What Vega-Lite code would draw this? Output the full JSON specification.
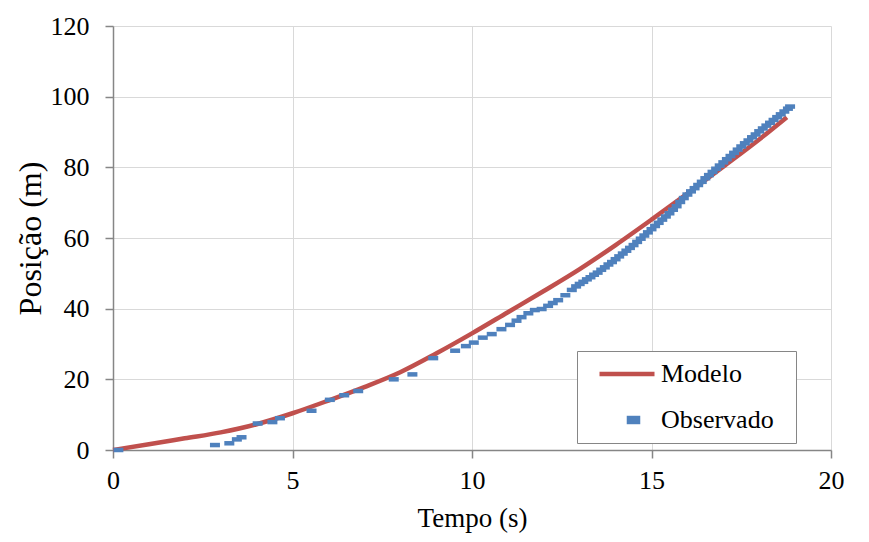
{
  "$schema": "https://vega.github.io/schema/vega-lite/v6.json",
  "width": 718,
  "height": 424,
  "autosize": "none",
  "padding": {"left": 113, "top": 26, "right": 38, "bottom": 92},
  "background": "white",
  "config": {
    "view": {"stroke": null},
    "font": "Liberation Serif",
    "axis": {
      "labelFont": "Liberation Serif",
      "titleFont": "Liberation Serif",
      "labelFontSize": 26,
      "titleFontSize": 27,
      "titleFontWeight": "normal",
      "labelColor": "black",
      "titleColor": "black",
      "gridColor": "#D9D9D9",
      "gridWidth": 1,
      "domainColor": "#868686",
      "domainWidth": 1.5,
      "tickColor": "#868686",
      "tickWidth": 1.5,
      "tickSize": 8
    },
    "legend": {"labelFont": "Liberation Serif"}
  },
  "datasets": {
    "modelo": [
      {"serie": "Modelo", "t": 0, "pos": 0},
      {"serie": "Modelo", "t": 1, "pos": 1.6},
      {"serie": "Modelo", "t": 2, "pos": 3.3},
      {"serie": "Modelo", "t": 3, "pos": 5.0},
      {"serie": "Modelo", "t": 4, "pos": 7.3},
      {"serie": "Modelo", "t": 5, "pos": 10.4},
      {"serie": "Modelo", "t": 6, "pos": 14.0},
      {"serie": "Modelo", "t": 7, "pos": 17.8},
      {"serie": "Modelo", "t": 8, "pos": 22.0},
      {"serie": "Modelo", "t": 9, "pos": 27.3},
      {"serie": "Modelo", "t": 10, "pos": 33.0},
      {"serie": "Modelo", "t": 11, "pos": 39.0},
      {"serie": "Modelo", "t": 12, "pos": 45.0},
      {"serie": "Modelo", "t": 13, "pos": 51.2},
      {"serie": "Modelo", "t": 14, "pos": 58.0},
      {"serie": "Modelo", "t": 15, "pos": 65.2},
      {"serie": "Modelo", "t": 16, "pos": 72.6},
      {"serie": "Modelo", "t": 17, "pos": 80.2},
      {"serie": "Modelo", "t": 18, "pos": 87.9},
      {"serie": "Modelo", "t": 18.77, "pos": 94.2}
    ],
    "observado": [
      {"serie": "Observado", "t": 0.15, "pos": 0},
      {"serie": "Observado", "t": 2.84, "pos": 1.4},
      {"serie": "Observado", "t": 3.24, "pos": 1.9},
      {"serie": "Observado", "t": 3.45, "pos": 3.0},
      {"serie": "Observado", "t": 3.58, "pos": 3.6},
      {"serie": "Observado", "t": 4.03, "pos": 7.5},
      {"serie": "Observado", "t": 4.44, "pos": 7.9},
      {"serie": "Observado", "t": 4.65, "pos": 9.0},
      {"serie": "Observado", "t": 5.53, "pos": 11.1},
      {"serie": "Observado", "t": 6.04, "pos": 14.2},
      {"serie": "Observado", "t": 6.44, "pos": 15.5},
      {"serie": "Observado", "t": 6.83, "pos": 16.7},
      {"serie": "Observado", "t": 7.82, "pos": 20.0},
      {"serie": "Observado", "t": 8.34, "pos": 21.4},
      {"serie": "Observado", "t": 8.92, "pos": 26.0},
      {"serie": "Observado", "t": 9.53, "pos": 28.1},
      {"serie": "Observado", "t": 9.83, "pos": 29.4},
      {"serie": "Observado", "t": 10.05, "pos": 30.4},
      {"serie": "Observado", "t": 10.3, "pos": 31.8},
      {"serie": "Observado", "t": 10.55, "pos": 32.8},
      {"serie": "Observado", "t": 10.82, "pos": 34.2},
      {"serie": "Observado", "t": 11.06, "pos": 35.4},
      {"serie": "Observado", "t": 11.24, "pos": 36.6},
      {"serie": "Observado", "t": 11.38, "pos": 37.6},
      {"serie": "Observado", "t": 11.57, "pos": 38.7},
      {"serie": "Observado", "t": 11.75, "pos": 39.6},
      {"serie": "Observado", "t": 11.94, "pos": 39.9},
      {"serie": "Observado", "t": 12.12, "pos": 40.8},
      {"serie": "Observado", "t": 12.25, "pos": 41.6},
      {"serie": "Observado", "t": 12.4, "pos": 42.4},
      {"serie": "Observado", "t": 12.6, "pos": 43.8},
      {"serie": "Observado", "t": 12.78, "pos": 45.3},
      {"serie": "Observado", "t": 12.9, "pos": 46.3},
      {"serie": "Observado", "t": 13.0, "pos": 47.0},
      {"serie": "Observado", "t": 13.1, "pos": 47.6},
      {"serie": "Observado", "t": 13.2, "pos": 48.3},
      {"serie": "Observado", "t": 13.3, "pos": 48.9},
      {"serie": "Observado", "t": 13.4, "pos": 49.6},
      {"serie": "Observado", "t": 13.5, "pos": 50.2},
      {"serie": "Observado", "t": 13.6, "pos": 51.0},
      {"serie": "Observado", "t": 13.7, "pos": 51.7},
      {"serie": "Observado", "t": 13.8, "pos": 52.5},
      {"serie": "Observado", "t": 13.9, "pos": 53.2},
      {"serie": "Observado", "t": 14.0, "pos": 54.0},
      {"serie": "Observado", "t": 14.1, "pos": 54.8},
      {"serie": "Observado", "t": 14.2, "pos": 55.6},
      {"serie": "Observado", "t": 14.3, "pos": 56.4},
      {"serie": "Observado", "t": 14.4, "pos": 57.2},
      {"serie": "Observado", "t": 14.5, "pos": 58.0},
      {"serie": "Observado", "t": 14.6, "pos": 58.9},
      {"serie": "Observado", "t": 14.7, "pos": 59.8},
      {"serie": "Observado", "t": 14.8, "pos": 60.7},
      {"serie": "Observado", "t": 14.9, "pos": 61.6},
      {"serie": "Observado", "t": 15.0, "pos": 62.5},
      {"serie": "Observado", "t": 15.1, "pos": 63.4},
      {"serie": "Observado", "t": 15.2, "pos": 64.3},
      {"serie": "Observado", "t": 15.3, "pos": 65.2},
      {"serie": "Observado", "t": 15.4, "pos": 66.1},
      {"serie": "Observado", "t": 15.5, "pos": 67.0},
      {"serie": "Observado", "t": 15.6, "pos": 68.0},
      {"serie": "Observado", "t": 15.7, "pos": 69.0},
      {"serie": "Observado", "t": 15.8, "pos": 70.2},
      {"serie": "Observado", "t": 15.9, "pos": 71.3},
      {"serie": "Observado", "t": 16.0, "pos": 72.3},
      {"serie": "Observado", "t": 16.1, "pos": 73.2},
      {"serie": "Observado", "t": 16.2, "pos": 74.1},
      {"serie": "Observado", "t": 16.3, "pos": 75.0},
      {"serie": "Observado", "t": 16.4, "pos": 75.9},
      {"serie": "Observado", "t": 16.5, "pos": 76.9},
      {"serie": "Observado", "t": 16.6, "pos": 77.8},
      {"serie": "Observado", "t": 16.7, "pos": 78.7},
      {"serie": "Observado", "t": 16.8, "pos": 79.6},
      {"serie": "Observado", "t": 16.9, "pos": 80.5},
      {"serie": "Observado", "t": 17.0, "pos": 81.4},
      {"serie": "Observado", "t": 17.1, "pos": 82.3},
      {"serie": "Observado", "t": 17.2, "pos": 83.2},
      {"serie": "Observado", "t": 17.3, "pos": 84.1},
      {"serie": "Observado", "t": 17.4, "pos": 85.0},
      {"serie": "Observado", "t": 17.5, "pos": 85.9},
      {"serie": "Observado", "t": 17.6, "pos": 86.8},
      {"serie": "Observado", "t": 17.7, "pos": 87.6},
      {"serie": "Observado", "t": 17.8, "pos": 88.5},
      {"serie": "Observado", "t": 17.9, "pos": 89.3},
      {"serie": "Observado", "t": 18.0, "pos": 90.2},
      {"serie": "Observado", "t": 18.1, "pos": 91.0},
      {"serie": "Observado", "t": 18.2, "pos": 91.8},
      {"serie": "Observado", "t": 18.3, "pos": 92.6},
      {"serie": "Observado", "t": 18.4, "pos": 93.4},
      {"serie": "Observado", "t": 18.5, "pos": 94.2},
      {"serie": "Observado", "t": 18.6, "pos": 95.0},
      {"serie": "Observado", "t": 18.7, "pos": 95.8},
      {"serie": "Observado", "t": 18.8, "pos": 96.6},
      {"serie": "Observado", "t": 18.86, "pos": 97.2}
    ]
  },
  "encoding": {
    "x": {
      "field": "t", "type": "quantitative",
      "scale": {"domain": [0, 20], "nice": false, "zero": true},
      "axis": {"values": [0, 5, 10, 15, 20], "title": "Tempo (s)", "labelPadding": 9, "titlePadding": 12, "labelFlush": false}
    },
    "y": {
      "field": "pos", "type": "quantitative",
      "scale": {"domain": [0, 120], "nice": false},
      "axis": {"values": [0, 20, 40, 60, 80, 100, 120], "title": "Posição (m)", "titleFontSize": 32, "labelPadding": 16, "titlePadding": 3}
    },
    "color": {
      "field": "serie", "type": "nominal",
      "scale": {"domain": ["Modelo", "Observado"], "range": ["#C0504D", "#4F81BD"]},
      "legend": {
        "title": "\u00a0",
        "titleOrient": "right",
        "titlePadding": 12,
        "titleFontSize": 2,
        "orient": "none",
        "legendX": 464,
        "legendY": 325,
        "padding": 10,
        "fillColor": "white",
        "strokeColor": "#868686",
        "labelFontSize": 26,
        "labelColor": "black",
        "labelOffset": 48,
        "rowPadding": 20,
        "symbolSize": 121,
        "encode": {
          "symbols": {
            "update": {
              "fill": {"signal": "datum.value === 'Modelo' ? 'transparent' : '#4F81BD'"},
              "stroke": {"signal": "datum.value === 'Modelo' ? '#C0504D' : 'transparent'"},
              "strokeWidth": {"value": 4.5},
              "shape": {"signal": "datum.value === 'Modelo' ? 'M-0.09,0H9.91' : 'M5.27,-0.36H6.91V0.36H5.27Z'"},
              "opacity": {"value": 1}
            }
          }
        }
      }
    }
  },
  "layer": [
    {
      "data": {"name": "modelo"},
      "mark": {"type": "line", "strokeWidth": 4.5, "interpolate": "monotone"}
    },
    {
      "data": {"name": "observado"},
      "mark": {"type": "point", "filled": true, "opacity": 1, "size": 100, "shape": "M-1,-0.45H1V0.45H-1Z"}
    }
  ]
}
